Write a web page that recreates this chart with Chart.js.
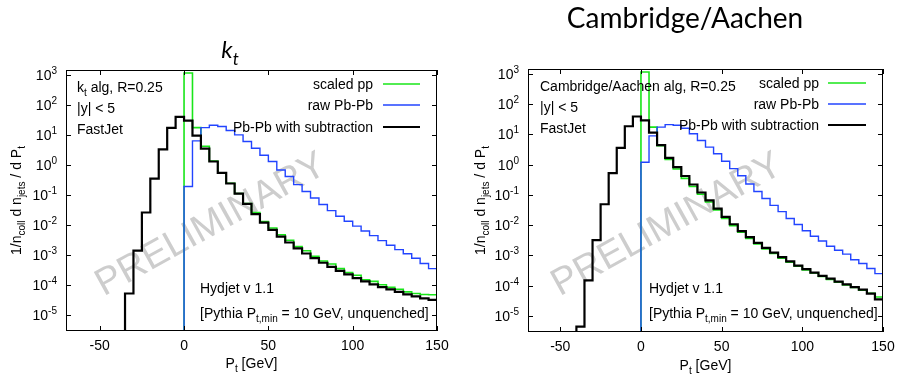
<!DOCTYPE html>
<html>
<head>
<meta charset="utf-8">
<script src="https://cdn.jsdelivr.net/npm/chart.js@4.4.1/dist/chart.umd.min.js"></script>
<style>
  html, body { margin: 0; padding: 0; background: #ffffff; }
  #wrap { position: relative; width: 898px; height: 375px; overflow: hidden; }
  #wrap canvas { position: absolute; top: 0; }
  #ktCanvas { left: 0; }
  #caCanvas { left: 449px; }
</style>
</head>
<body>
<div id="wrap">
  <canvas id="ktCanvas" width="449" height="375"></canvas>
  <canvas id="caCanvas" width="449" height="375"></canvas>
</div>
<script>
// Lower edges of the 5 GeV P_t bins [GeV]
const BIN_WIDTH = 5;
const binLow = [-40, -35, -30, -25, -20, -15, -10, -5, 0, 5, 10, 15, 20, 25, 30, 35, 40, 45, 50, 55,
                60, 65, 70, 75, 80, 85, 90, 95, 100, 105, 110, 115, 120, 125, 130, 135, 140, 145];

// Axis ticks
const xTickValues = [-50, 0, 50, 100, 150];
const yTickExponents = [-5, -4, -3, -2, -1, 0, 1, 2, 3];

// k_t algorithm, R = 0.25 : 1/n_coll dN/dPt per bin
const ktSubtracted = [null, 5.2e-5, 1.4e-3, 0.026, 0.35, 3.3, 17, 40,
  30, 9.5, 3.5, 1.3, 0.54, 0.24, 0.11, 0.050, 0.023, 0.012, 0.0068, 0.0041, 0.0026, 0.00166, 0.00112,
  7.8e-4, 5.5e-4, 4.0e-4, 2.95e-4, 2.24e-4, 1.7e-4, 1.32e-4, 1.05e-4, 8.5e-5, 7.1e-5, 5.9e-5, 4.9e-5,
  4.2e-5, 3.6e-5, 3.2e-5];
const ktScaledPP = [null, null, null, null, null, null, null, null,
  1150, 17.4, 4.2, 1.35, 0.54, 0.245, 0.112, 0.052, 0.026, 0.0129, 0.0079, 0.0047, 0.0031, 0.0019, 0.00138,
  9.1e-4, 6.3e-4, 5.0e-4, 3.5e-4, 2.6e-4, 2.1e-4, 1.5e-4, 1.32e-4, 1.02e-4, 8.3e-5, 7.2e-5, 5.9e-5,
  5.2e-5, 4.8e-5, 4.7e-5];
const ktRawPbPb = [null, null, null, null, null, null, null, null,
  0.19, 6.3, 17.4, 21, 19, 14, 10, 6.0, 3.6, 2.1, 1.3, 0.68, 0.41, 0.22, 0.13,
  0.079, 0.048, 0.030, 0.0195, 0.0132, 0.0091, 0.0063, 0.0044, 0.0030, 0.0021, 0.0015, 0.0011,
  7.8e-4, 5.2e-4, 3.5e-4];

// Cambridge/Aachen algorithm, R = 0.25
const caSubtracted = [4.4e-6, 1.5e-4, 3.2e-3, 0.049, 0.52, 3.6, 18.6, 39,
  29, 11.5, 4.4, 1.66, 0.83, 0.42, 0.22, 0.12, 0.066, 0.035, 0.0186, 0.0107, 0.0063, 0.0040, 0.0026,
  0.00178, 0.00123, 8.7e-4, 6.3e-4, 4.6e-4, 3.5e-4, 2.7e-4, 2.1e-4, 1.7e-4, 1.35e-4, 1.1e-4, 8.9e-5,
  7.4e-5, 5.4e-5, 3.5e-5];
const caScaledPP = [null, null, null, null, null, null, null, null,
  1150, 17.4, 4.2, 1.48, 0.72, 0.35, 0.19, 0.105, 0.058, 0.032, 0.0166, 0.0095, 0.0058, 0.0036, 0.0024,
  0.00162, 0.00115, 8.1e-4, 5.9e-4, 4.4e-4, 3.3e-4, 2.6e-4, 2.0e-4, 1.6e-4, 1.29e-4, 1.05e-4, 8.7e-5,
  7.1e-5, 5.6e-5, 4.2e-5];
const caRawPbPb = [null, null, null, null, null, null, null, null,
  1.2, 8.9, 17.4, 21, 20, 16, 10.5, 6.3, 3.8, 2.3, 1.3, 0.74, 0.43, 0.23, 0.13,
  0.076, 0.045, 0.028, 0.0166, 0.0105, 0.0065, 0.0043, 0.0030, 0.0020, 0.00148, 0.0011, 7.2e-4,
  5.4e-4, 3.7e-4, 2.5e-4];

const X_MIN = -70, X_MAX = 150;
const Y_MIN = 2.93e-6, Y_MAX = 1450;
const FLOOR = 1e-12;   // histogram baseline, far below the visible range

const GREEN = '#19e619';
const BLUE = '#2244ff';
const SANS = '"Liberation Sans", Arial, Helvetica, sans-serif';
const TITLE_FONT = 'Lato, "Open Sans", sans-serif';

// Turn per-bin contents into a step outline (value held over each bin)
function histPoints(values) {
  const pts = [];
  let last = null, lastIdx = -1;
  values.forEach((v, i) => {
    if (v === null) return;
    if (!pts.length) pts.push({ x: binLow[i], y: FLOOR });
    pts.push({ x: binLow[i], y: v });
    last = v; lastIdx = i;
  });
  pts.push({ x: binLow[lastIdx] + BIN_WIDTH, y: last });
  return pts;
}

// Text with sub- (1) and superscript (2) pieces
function drawRich(ctx, parts, x, y, align, size, family, style) {
  family = family || SANS;
  style = style || '';
  const small = Math.round(size * 0.72);
  const fontFor = k => `${style} ${k ? small : size}px ${family}`;
  let total = 0;
  const widths = parts.map(([t, k]) => {
    ctx.font = fontFor(k);
    const w = ctx.measureText(t).width;
    total += w;
    return w;
  });
  let cx = align === 'right' ? x - total : align === 'center' ? x - total / 2 : x;
  ctx.textAlign = 'left';
  ctx.textBaseline = 'alphabetic';
  parts.forEach(([t, k], i) => {
    ctx.font = fontFor(k);
    const dy = k === 1 ? size * 0.3 : k === 2 ? -size * 0.42 : 0;
    ctx.fillText(t, cx, y + dy);
    cx += widths[i];
  });
}

function makeDecor(cfg) {
  return {
    id: 'histDecor',
    beforeDatasetsDraw(chart) {
      const ctx = chart.ctx;
      ctx.save();
      ctx.translate(cfg.mark[0], cfg.mark[1]);
      ctx.rotate(-29 * Math.PI / 180);
      ctx.font = `38px ${SANS}`;
      ctx.fillStyle = '#cdcdcd';
      ctx.textAlign = 'center';
      ctx.textBaseline = 'middle';
      ctx.fillText('PRELIMINARY', 0, 0);
      ctx.restore();
    },
    afterDatasetsDraw(chart) {
      const ctx = chart.ctx;
      const a = chart.chartArea;
      const xs = chart.scales.x, ys = chart.scales.y;
      ctx.save();
      ctx.fillStyle = '#000';
      ctx.strokeStyle = '#000';
      ctx.lineWidth = 1;

      // frame
      ctx.strokeRect(a.left + 0.5, a.top + 0.5, a.right - a.left - 1, a.bottom - a.top - 1);

      // inward ticks on all four sides
      const TL = 5;
      ctx.beginPath();
      xTickValues.forEach(v => {
        const px = Math.round(xs.getPixelForValue(v)) + 0.5;
        ctx.moveTo(px, a.bottom); ctx.lineTo(px, a.bottom - TL);
        ctx.moveTo(px, a.top); ctx.lineTo(px, a.top + TL);
      });
      yTickExponents.forEach(e => {
        const py = Math.round(ys.getPixelForValue(Math.pow(10, e))) + 0.5;
        ctx.moveTo(a.left, py); ctx.lineTo(a.left + TL, py);
        ctx.moveTo(a.right, py); ctx.lineTo(a.right - TL, py);
      });
      ctx.stroke();

      // tick labels
      xTickValues.forEach(v => {
        drawRich(ctx, [[String(v), 0]], xs.getPixelForValue(v), cfg.xTickBase, 'center', 14);
      });
      yTickExponents.forEach(e => {
        const py = ys.getPixelForValue(Math.pow(10, e));
        drawRich(ctx, [['10', 0], [String(e), 2]], a.left - 9, py + 5, 'right', 14);
      });

      // axis titles
      drawRich(ctx, [['P', 0], ['t', 1], [' [GeV]', 0]], (a.left + a.right) / 2, cfg.xTitleBase, 'center', 14);
      ctx.save();
      ctx.translate(cfg.yTitleX, (a.top + a.bottom) / 2);
      ctx.rotate(-Math.PI / 2);
      drawRich(ctx, [['1/n', 0], ['coll', 1], [' d n', 0], ['jets', 1], [' / d P', 0], ['t', 1]], 0, 0, 'center', 14);
      ctx.restore();

      // panel title
      drawRich(ctx, cfg.title, cfg.titlePos[0], cfg.titlePos[1], 'center', cfg.titleSize, TITLE_FONT, cfg.titleStyle);

      // jet definition notes
      cfg.notes.forEach((parts, i) => drawRich(ctx, parts, cfg.notesX, cfg.notesY[i], 'left', 14));

      // generator notes
      drawRich(ctx, [['Hydjet v 1.1', 0]], cfg.genX, cfg.genY[0], 'left', 14);
      drawRich(ctx, [['[Pythia P', 0], ['t,min', 1], [' = 10 GeV, unquenched]', 0]], cfg.genX, cfg.genY[1], 'left', 14);

      // key
      chart.data.datasets.slice().sort((p, q) => q.order - p.order).forEach((ds, i) => {
        const ly = cfg.keyY[i];
        ctx.fillStyle = '#000';
        drawRich(ctx, [[ds.label, 0]], cfg.keyTextRight, ly + 5, 'right', 14);
        ctx.beginPath();
        ctx.strokeStyle = ds.borderColor;
        ctx.lineWidth = ds.borderWidth;
        ctx.moveTo(cfg.keyLine[0], ly);
        ctx.lineTo(cfg.keyLine[1], ly);
        ctx.stroke();
      });
      ctx.restore();
    }
  };
}

function makeChart(canvasId, series, pad, cfg) {
  return new Chart(document.getElementById(canvasId), {
    type: 'line',
    data: {
      datasets: [
        { label: 'Pb-Pb with subtraction', data: histPoints(series.sub), borderColor: '#000000',
          borderWidth: 2.2, order: 0, stepped: 'before', pointRadius: 0, fill: false },
        { label: 'raw Pb-Pb', data: histPoints(series.raw), borderColor: BLUE,
          borderWidth: 1.4, order: 1, stepped: 'before', pointRadius: 0, fill: false },
        { label: 'scaled pp', data: histPoints(series.pp), borderColor: GREEN,
          borderWidth: 1.6, order: 2, stepped: 'before', pointRadius: 0, fill: false }
      ]
    },
    options: {
      responsive: false,
      animation: false,
      devicePixelRatio: 1,
      layout: { padding: pad },
      elements: { line: { borderJoinStyle: 'miter', borderCapStyle: 'butt', tension: 0 } },
      scales: {
        x: { type: 'linear', min: X_MIN, max: X_MAX, bounds: 'data', display: false },
        y: { type: 'logarithmic', min: Y_MIN, max: Y_MAX, bounds: 'data', display: false }
      },
      plugins: { legend: { display: false }, tooltip: { enabled: false } }
    },
    plugins: [makeDecor(cfg)]
  });
}

makeChart('ktCanvas',
  { sub: ktSubtracted, raw: ktRawPbPb, pp: ktScaledPP },
  { left: 66, right: 12, top: 70, bottom: 44 },
  {
    title: [['k', 0], ['t', 1]], titlePos: [230, 58], titleSize: 24, titleStyle: 'italic',
    notes: [[['k', 0], ['t', 1], [' alg, R=0.25', 0]], [['|y| < 5', 0]], [['FastJet', 0]]],
    notesX: 77, notesY: [92, 113, 134],
    genX: 200, genY: [293, 318],
    keyTextRight: 373, keyLine: [383, 420], keyY: [84, 105, 127],
    xTickBase: 350, xTitleBase: 368, yTitleX: 21,
    mark: [211, 225]
  });

makeChart('caCanvas',
  { sub: caSubtracted, raw: caRawPbPb, pp: caScaledPP },
  { left: 79, right: 15, top: 69, bottom: 43 },
  {
    title: [['Cambridge/Aachen', 0]], titlePos: [236, 28], titleSize: 28, titleStyle: '',
    notes: [[['Cambridge/Aachen alg, R=0.25', 0]], [['|y| < 5', 0]], [['FastJet', 0]]],
    notesX: 91, notesY: [91, 112, 133],
    genX: 200, genY: [293, 318],
    keyTextRight: 370, keyLine: [379, 417], keyY: [83, 104, 125],
    xTickBase: 351, xTitleBase: 370, yTitleX: 36,
    mark: [218, 225]
  });
</script>
</body>
</html>
